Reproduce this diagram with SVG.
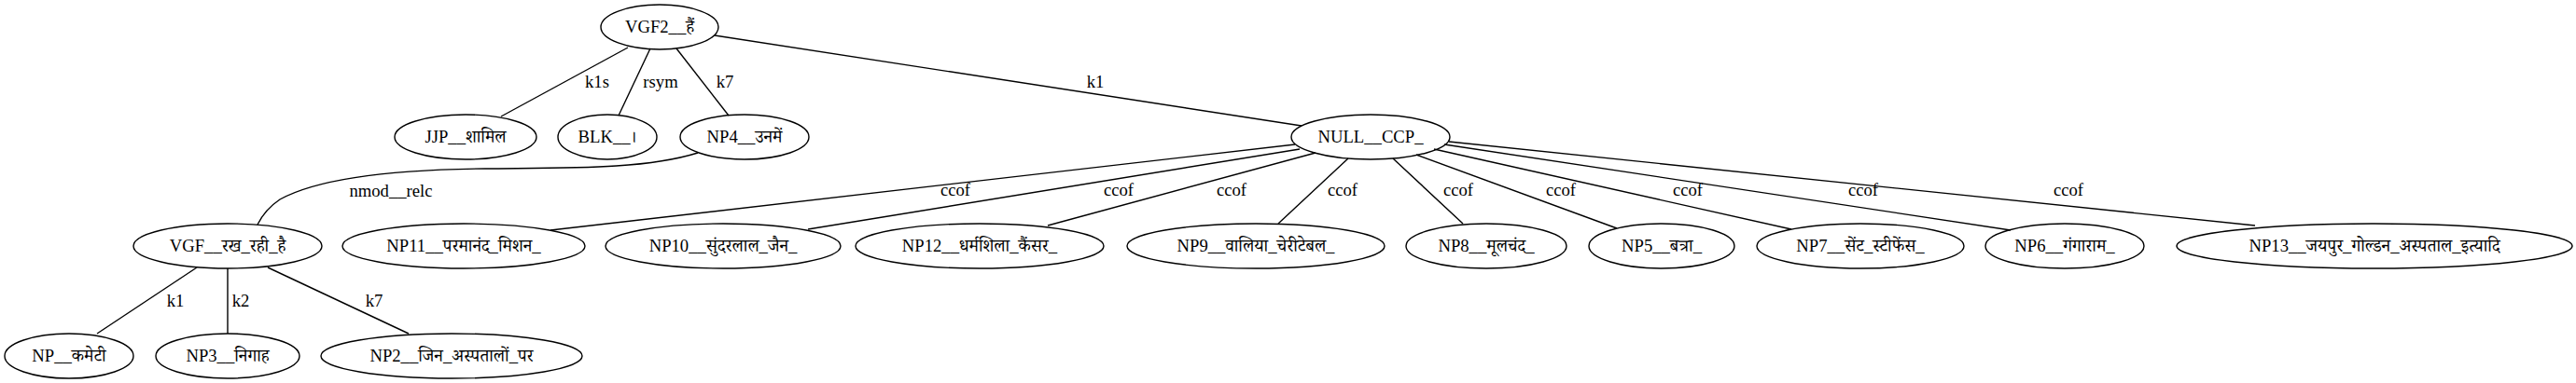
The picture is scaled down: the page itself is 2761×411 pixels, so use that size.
<svg xmlns="http://www.w3.org/2000/svg" width="2761" height="411" viewBox="0 0 2761 411">
<style>
.node ellipse{fill:none;stroke:#000;stroke-width:1.4}
text{font-family:"Liberation Serif","Noto Serif Devanagari","Noto Sans Devanagari","Lohit Devanagari",FreeSerif,serif;font-size:18.67px;text-anchor:middle;fill:#000}
#edges path{fill:none;stroke:#000;stroke-width:1.4}
</style>
<rect width="2761" height="411" fill="#fff"/>
<g id="edges">
<path d="M673,51 L537,125"/>
<path d="M697,52 L663,124"/>
<path d="M725,52 L781,124"/>
<path d="M766,38 L1395,135"/>
<path d="M748,164 C690,182 610,180 520,181 C420,182 340,192 300,214 C288,222 281,231 276,241"/>
<path d="M1388,155 L590,247"/>
<path d="M1393,160 L866,246"/>
<path d="M1410,164 L1123,242"/>
<path d="M1445,170 L1370,240"/>
<path d="M1493,170 L1568,240"/>
<path d="M1518,166 L1733,245"/>
<path d="M1537,160 L1920,246"/>
<path d="M1548,155 L2155,247"/>
<path d="M1553,152 L2417,242"/>
<path d="M211,287 L104,358"/>
<path d="M244,288 L244,358"/>
<path d="M287,287 L438,358"/>
<text x="640" y="94">k1s</text>
<text x="708" y="94">rsym</text>
<text x="777" y="94">k7</text>
<text x="1174" y="94">k1</text>
<text x="419" y="211">nmod__relc</text>
<text x="1024" y="210">ccof</text>
<text x="1199" y="210">ccof</text>
<text x="1320" y="210">ccof</text>
<text x="1439" y="210">ccof</text>
<text x="1563" y="210">ccof</text>
<text x="1673" y="210">ccof</text>
<text x="1809" y="210">ccof</text>
<text x="1997" y="210">ccof</text>
<text x="2217" y="210">ccof</text>
<text x="188" y="329">k1</text>
<text x="258" y="329">k2</text>
<text x="401" y="329">k7</text>
</g>
<g id="n_vgf2" class="node"><ellipse cx="707" cy="29" rx="63" ry="24"/><text x="707" y="35">VGF2__हैं</text></g>
<g id="n_jjp" class="node"><ellipse cx="499" cy="147" rx="76" ry="24"/><text x="499" y="153">JJP__शामिल</text></g>
<g id="n_blk" class="node"><ellipse cx="651" cy="147" rx="53" ry="24"/><text x="651" y="153">BLK__।</text></g>
<g id="n_np4" class="node"><ellipse cx="798" cy="147" rx="69" ry="24"/><text x="798" y="153">NP4__उनमें</text></g>
<g id="n_null" class="node"><ellipse cx="1469" cy="147" rx="85" ry="24"/><text x="1469" y="153">NULL__CCP_</text></g>
<g id="n_vgf" class="node"><ellipse cx="244" cy="264" rx="101" ry="24"/><text x="244" y="270">VGF__रख_रही_है</text></g>
<g id="n_np11" class="node"><ellipse cx="497" cy="264" rx="130" ry="24"/><text x="497" y="270">NP11__परमानंद_मिशन_</text></g>
<g id="n_np10" class="node"><ellipse cx="775" cy="264" rx="126" ry="24"/><text x="775" y="270">NP10__सुंदरलाल_जैन_</text></g>
<g id="n_np12" class="node"><ellipse cx="1050" cy="264" rx="133" ry="24"/><text x="1050" y="270">NP12__धर्मशिला_कैंसर_</text></g>
<g id="n_np9" class="node"><ellipse cx="1346" cy="264" rx="138" ry="24"/><text x="1346" y="270">NP9__वालिया_चेरीटेबल_</text></g>
<g id="n_np8" class="node"><ellipse cx="1593" cy="264" rx="86" ry="24"/><text x="1593" y="270">NP8__मूलचंद_</text></g>
<g id="n_np5" class="node"><ellipse cx="1781" cy="264" rx="78" ry="24"/><text x="1781" y="270">NP5__बत्रा_</text></g>
<g id="n_np7" class="node"><ellipse cx="1994" cy="264" rx="111" ry="24"/><text x="1994" y="270">NP7__सेंट_स्टीफेंस_</text></g>
<g id="n_np6" class="node"><ellipse cx="2213" cy="264" rx="85" ry="24"/><text x="2213" y="270">NP6__गंगाराम_</text></g>
<g id="n_np13" class="node"><ellipse cx="2545" cy="264" rx="212" ry="24"/><text x="2545" y="270">NP13__जयपुर_गोल्डन_अस्पताल_इत्यादि</text></g>
<g id="n_np" class="node"><ellipse cx="74" cy="382" rx="69" ry="24"/><text x="74" y="388">NP__कमेटी</text></g>
<g id="n_np3" class="node"><ellipse cx="244" cy="382" rx="77" ry="24"/><text x="244" y="388">NP3__निगाह</text></g>
<g id="n_np2" class="node"><ellipse cx="484" cy="382" rx="140" ry="24"/><text x="484" y="388">NP2__जिन_अस्पतालों_पर</text></g>
</svg>
